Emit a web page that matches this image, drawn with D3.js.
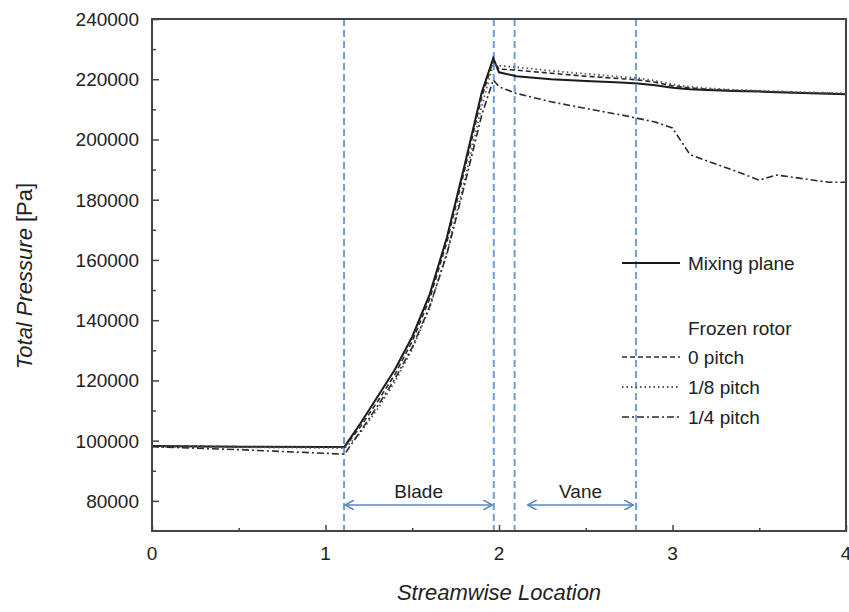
<!DOCTYPE html>
<meta charset="utf-8">
<script src="https://d3js.org/d3.v7.js"></script>
<style>
  body { margin: 0; background: #fff; }
  text { font-family: "Liberation Sans", Arial, sans-serif; fill: #222; }
</style>
<svg id="chart" width="849" height="612"></svg>

<script>
    // streamwise stations shared by every series
    var xs = [0, 0.5, 1.0, 1.11, 1.2, 1.3, 1.4, 1.5, 1.6, 1.7, 1.8, 1.9, 1.967, 2.0, 2.1, 2.3, 2.5, 2.7, 2.8, 2.9, 3.0, 3.1, 3.2, 3.35, 3.5, 3.6, 3.75, 3.9, 4.0];

    var mixingPlane = [98200, 98000, 97900, 98000, 105600, 114600, 123600, 134500, 148500, 167500, 191000, 215500, 227000, 222300, 221000, 220000, 219400, 218900, 218600, 218000, 217200, 216700, 216400, 216100, 215900, 215700, 215400, 215200, 215000];
    var pitch0 = [98200, 98000, 97900, 97900, 104500, 113000, 122000, 133000, 147000, 166000, 189500, 214000, 226200, 223400, 223000, 222000, 221000, 220200, 219800, 219000, 217800, 217100, 216700, 216300, 216000, 215800, 215500, 215300, 215100];
    var pitch18 = [98000, 97800, 97600, 97500, 102500, 110500, 119500, 130500, 144000, 162500, 186000, 211000, 225000, 224500, 224000, 222800, 221800, 220800, 220400, 219500, 218300, 217500, 217000, 216500, 216200, 216000, 215700, 215500, 215300];
    var pitch14 = [98000, 97000, 95800, 95500, 103000, 111500, 120500, 131000, 144500, 162000, 184500, 208000, 219800, 217500, 215300, 212500, 210300, 208200, 207000, 205800, 203800, 195000, 192800, 189800, 186500, 188200, 187000, 185800, 185800];

    var seriesNames = ["Mixing plane", "0 pitch", "1/8 pitch", "1/4 pitch"];
    var seriesValues = [mixingPlane, pitch0, pitch18, pitch14];

    var xTicks = [0, 1, 2, 3, 4];
    var yTicks = [80000, 100000, 120000, 140000, 160000, 180000, 200000, 220000, 240000];

    // region markers (blade / vane) and their labels
    var markers = [1.107, 1.97, 2.09, 2.79];
    var regions = [{ name: "Blade", from: 1.107, to: 1.967 }, { name: "Vane", from: 2.16, to: 2.78 }];

    var svg = d3.select("#chart");
    var pLeft = 152, pRight = 846, pTop = 19, pBottom = 531;

    var x = d3.scaleLinear().domain([0, 4]).range([pLeft, pRight]);
    var y = d3.scaleLinear().domain([70000, 240000]).range([pBottom, pTop]);

    var styles = [
        { stroke: "#1a1a1a", width: 2, dash: null },
        { stroke: "#2a2a2a", width: 1.6, dash: "5,3" },
        { stroke: "#555", width: 1.8, dash: "1.5,3" },
        { stroke: "#2a2a2a", width: 1.6, dash: "7,3,2,3" }
    ];

    // blue dashed station lines
    svg.append("g").selectAll("line").data(markers).enter().append("line")
        .attr("x1", d => x(d)).attr("x2", d => x(d))
        .attr("y1", pTop).attr("y2", pBottom)
        .attr("stroke", "#6a9fd8").attr("stroke-width", 2)
        .attr("stroke-dasharray", "7,4");

    // data lines
    var line = d3.line().x(d => x(d[0])).y(d => y(d[1]));
    seriesValues.forEach(function (vals, i) {
        svg.append("path")
            .datum(xs.map((v, j) => [v, vals[j]]))
            .attr("d", line)
            .attr("fill", "none")
            .attr("stroke", styles[i].stroke)
            .attr("stroke-width", styles[i].width)
            .attr("stroke-dasharray", styles[i].dash);
    });

    // frame
    svg.append("rect")
        .attr("x", pLeft).attr("y", pTop)
        .attr("width", pRight - pLeft).attr("height", pBottom - pTop)
        .attr("fill", "none").attr("stroke", "#444").attr("stroke-width", 2);

    // axes with inward ticks
    svg.append("g").attr("transform", "translate(" + pLeft + ",0)")
        .call(d3.axisRight(y).tickValues(yTicks).tickSize(7).tickFormat(""))
        .select(".domain").remove();
    svg.append("g").attr("transform", "translate(" + pLeft + ",0)")
        .call(d3.axisRight(y).tickValues(d3.range(90000, 240000, 20000)).tickSize(4).tickFormat(""))
        .select(".domain").remove();
    svg.append("g").attr("transform", "translate(0," + pBottom + ")")
        .call(d3.axisTop(x).tickValues(xTicks).tickSize(6).tickFormat(""))
        .select(".domain").remove();
    svg.append("g").attr("transform", "translate(0," + pBottom + ")")
        .call(d3.axisTop(x).tickValues([0.5, 1.5, 2.5, 3.5]).tickSize(3).tickFormat(""))
        .select(".domain").remove();
    svg.selectAll(".tick line").attr("stroke", "#444").attr("stroke-width", 1.5);

    // tick labels
    svg.append("g").selectAll("text").data(yTicks).enter().append("text")
        .attr("x", 139).attr("y", d => y(d) + 7)
        .attr("text-anchor", "end").attr("font-size", 19)
        .text(d => d);
    svg.append("g").selectAll("text").data(xTicks).enter().append("text")
        .attr("x", d => x(d)).attr("y", 560)
        .attr("text-anchor", "middle").attr("font-size", 19)
        .text(d => d);

    // axis titles
    svg.append("text")
        .attr("x", 499).attr("y", 600)
        .attr("text-anchor", "middle").attr("font-size", 22).attr("font-style", "italic")
        .text("Streamwise Location");
    var yt = svg.append("text")
        .attr("transform", "translate(32,276) rotate(-90)")
        .attr("text-anchor", "middle").attr("font-size", 22);
    yt.append("tspan").attr("font-style", "italic").text("Total Pressure");
    yt.append("tspan").text(" [Pa]");

    // blade / vane arrows
    svg.append("defs").append("marker")
        .attr("id", "arr").attr("viewBox", "0 0 10 10")
        .attr("refX", 9).attr("refY", 5)
        .attr("markerWidth", 10).attr("markerHeight", 10)
        .attr("markerUnits", "userSpaceOnUse")
        .attr("orient", "auto-start-reverse")
        .append("path").attr("d", "M0,0 L9,5 L0,10")
        .attr("fill", "none").attr("stroke", "#5b86c0").attr("stroke-width", 1.5);

    regions.forEach(function (r) {
        svg.append("line")
            .attr("x1", x(r.from) + 1).attr("x2", x(r.to) - 1)
            .attr("y1", 505).attr("y2", 505)
            .attr("stroke", "#5b86c0").attr("stroke-width", 1.5)
            .attr("marker-start", "url(#arr)").attr("marker-end", "url(#arr)");
        svg.append("text")
            .attr("x", (x(r.from) + x(r.to)) / 2).attr("y", 498)
            .attr("text-anchor", "middle").attr("font-size", 19)
            .attr("font-family", "DejaVu Sans")
            .text(r.name);
    });

    // legend
    var legendY = [263, 357, 387, 417];
    seriesNames.forEach(function (name, i) {
        svg.append("line")
            .attr("x1", 622).attr("x2", 680)
            .attr("y1", legendY[i]).attr("y2", legendY[i])
            .attr("stroke", styles[i].stroke)
            .attr("stroke-width", styles[i].width)
            .attr("stroke-dasharray", styles[i].dash);
        svg.append("text")
            .attr("x", 688).attr("y", legendY[i] + 7)
            .attr("font-size", 19)
            .text(name);
    });
    svg.append("text")
        .attr("x", 688).attr("y", 335)
        .attr("font-size", 19)
        .text("Frozen rotor");
</script>
